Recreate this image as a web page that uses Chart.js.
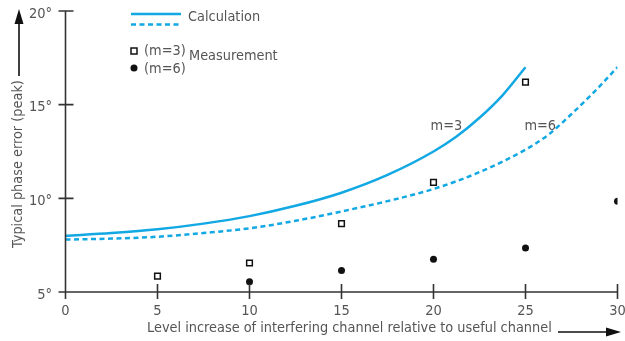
<!DOCTYPE html>
<html>
<head>
<meta charset="utf-8">
<script src="https://cdn.jsdelivr.net/npm/chart.js@4/dist/chart.umd.min.js"></script>
<style>
  html, body { margin: 0; padding: 0; background: #fff; }
  #wrap { width: 625px; height: 341px; position: relative; }
</style>
</head>
<body>
<div id="wrap"><canvas id="c"></canvas></div>
<script>
// Level increase (dB) along the x axis
const calcLevelsM3 = [0, 2.5, 5, 7.5, 10, 12.5, 15, 17.5, 20, 21.25, 22.5, 23.75, 25];
const calcLevelsM6 = [0, 2.5, 5, 7.5, 10, 12.5, 15, 17.5, 20, 22.5, 25, 26.25, 27.5, 28.75, 30];
// Calculated phase error (degrees)
const calcM3 = [8.0, 8.15, 8.35, 8.65, 9.05, 9.6, 10.3, 11.25, 12.5, 13.3, 14.3, 15.5, 17.0];
const calcM6 = [7.8, 7.85, 7.95, 8.15, 8.4, 8.8, 9.3, 9.85, 10.5, 11.4, 12.6, 13.4, 14.5, 15.7, 17.0];
// Measured phase error (degrees)
const measLevelsM3 = [5, 10, 15, 20, 25];
const measM3 = [5.85, 6.55, 8.65, 10.85, 16.2];
const measLevelsM6 = [10, 15, 20, 25, 30];
const measM6 = [5.55, 6.15, 6.75, 7.35, 9.85];
// Axis ticks
const xTicks = [0, 5, 10, 15, 20, 25, 30];
const yTicks = [5, 10, 15, 20];

const BLUE = '#12a8e4';
const TEXT = '#555555';
const AXIS = '#333333';
const FONT = "'DejaVu Sans Condensed', 'Liberation Sans Narrow', sans-serif";
const X_TITLE = 'Level increase of interfering channel relative to useful channel';
const Y_TITLE = 'Typical phase error (peak)';

const pts = (xs, ys) => xs.map((x, i) => ({ x: x, y: ys[i] }));

const decor = {
  id: 'decor',
  afterDraw(chart) {
    const ctx = chart.ctx;
    const xs = chart.scales.x, ys = chart.scales.y;
    const x0 = xs.getPixelForValue(0), x30 = xs.getPixelForValue(30);
    const yb = ys.getPixelForValue(5), yt = ys.getPixelForValue(20);
    ctx.save();

    // axis lines with tick marks crossing them
    ctx.strokeStyle = AXIS;
    ctx.lineWidth = 1.6;
    ctx.beginPath();
    ctx.moveTo(x0, yt); ctx.lineTo(x0, yb + 7);
    ctx.moveTo(x0 - 7, yb); ctx.lineTo(x30, yb);
    xTicks.forEach(v => {
      const p = xs.getPixelForValue(v);
      ctx.moveTo(p, yb - 8); ctx.lineTo(p, yb + 7);
    });
    yTicks.forEach(v => {
      const p = ys.getPixelForValue(v);
      ctx.moveTo(x0 - 7, p); ctx.lineTo(x0 + 8, p);
    });
    ctx.stroke();

    // text size chosen so the x title spans its place under the axis
    ctx.font = '15px ' + FONT;
    const size = (15 * 405 / ctx.measureText(X_TITLE).width).toFixed(2);
    ctx.font = size + 'px ' + FONT;

    // axis titles
    ctx.fillStyle = TEXT;
    ctx.textBaseline = 'middle';
    ctx.textAlign = 'left';
    ctx.fillText(X_TITLE, 147, 328);
    ctx.save();
    ctx.translate(18, 164);
    ctx.rotate(-Math.PI / 2);
    ctx.textAlign = 'center';
    ctx.fillText(Y_TITLE, 0, 0);
    ctx.restore();

    // arrows
    ctx.strokeStyle = '#111';
    ctx.fillStyle = '#111';
    ctx.lineWidth = 1.6;
    ctx.beginPath();
    ctx.moveTo(558, 332); ctx.lineTo(610, 332);
    ctx.moveTo(19, 76); ctx.lineTo(19, 20);
    ctx.stroke();
    ctx.beginPath();
    ctx.moveTo(621, 332); ctx.lineTo(606, 327.5); ctx.lineTo(606, 336.5); ctx.closePath();
    ctx.fill();
    ctx.beginPath();
    ctx.moveTo(19, 9); ctx.lineTo(14.5, 24); ctx.lineTo(23.5, 24); ctx.closePath();
    ctx.fill();

    // legend
    ctx.strokeStyle = BLUE;
    ctx.lineWidth = 2.4;
    ctx.beginPath(); ctx.moveTo(131, 14); ctx.lineTo(181, 14); ctx.stroke();
    ctx.setLineDash([5, 3.5]);
    ctx.beginPath(); ctx.moveTo(131, 24.5); ctx.lineTo(181, 24.5); ctx.stroke();
    ctx.setLineDash([]);
    ctx.strokeStyle = '#111';
    ctx.lineWidth = 1.5;
    ctx.fillStyle = '#fff';
    ctx.fillRect(131, 48, 6, 6);
    ctx.strokeRect(131, 48, 6, 6);
    ctx.fillStyle = '#111';
    ctx.beginPath(); ctx.arc(134, 68, 3.5, 0, Math.PI * 2); ctx.fill();

    ctx.fillStyle = TEXT;
    ctx.textAlign = 'left';
    ctx.fillText('Calculation', 188, 17);
    ctx.fillText('(m=3)', 144, 51);
    ctx.fillText('(m=6)', 144, 69);
    ctx.fillText('Measurement', 189, 56);

    // curve labels
    ctx.textAlign = 'center';
    ctx.fillText('m=3', xs.getPixelForValue(20.7), ys.getPixelForValue(13.85));
    ctx.fillText('m=6', xs.getPixelForValue(25.8), ys.getPixelForValue(13.85));
    ctx.restore();
  }
};

new Chart(document.getElementById('c'), {
  type: 'scatter',
  data: {
    datasets: [
      {
        label: 'Calculation m=3',
        type: 'line',
        data: pts(calcLevelsM3, calcM3),
        borderColor: BLUE,
        borderWidth: 2.5,
        pointRadius: 0,
        cubicInterpolationMode: 'monotone',
        fill: false
      },
      {
        label: 'Calculation m=6',
        type: 'line',
        data: pts(calcLevelsM6, calcM6),
        borderColor: BLUE,
        borderWidth: 2.5,
        borderDash: [5, 3.5],
        pointRadius: 0,
        cubicInterpolationMode: 'monotone',
        fill: false
      },
      {
        label: 'Measurement m=3',
        data: pts(measLevelsM3, measM3),
        pointStyle: 'rect',
        pointRadius: 4,
        pointBorderWidth: 1.5,
        borderColor: '#111',
        backgroundColor: '#fff'
      },
      {
        label: 'Measurement m=6',
        data: pts(measLevelsM6, measM6),
        pointStyle: 'circle',
        pointRadius: 3.5,
        pointBorderWidth: 0,
        borderColor: '#111',
        backgroundColor: '#111'
      }
    ]
  },
  options: {
    responsive: true,
    maintainAspectRatio: false,
    animation: false,
    events: [],
    layout: { padding: { left: 0, right: 7.5, top: 11, bottom: 0 } },
    plugins: { legend: { display: false }, tooltip: { enabled: false } },
    scales: {
      x: {
        type: 'linear',
        min: 0, max: 30,
        afterFit(s) { s.height = 49; s.paddingLeft = 0; s.paddingRight = 0; },
        afterBuildTicks(s) { s.ticks = xTicks.map(v => ({ value: v })); },
        grid: { display: false, drawTicks: false },
        border: { display: false },
        ticks: {
          color: TEXT,
          font: { family: FONT, size: 14.5 },
          padding: 11,
          maxRotation: 0
        }
      },
      y: {
        type: 'linear',
        min: 5, max: 20,
        afterFit(s) { s.width = 65.5; s.paddingTop = 0; s.paddingBottom = 0; },
        afterBuildTicks(s) { s.ticks = yTicks.map(v => ({ value: v })); },
        grid: { display: false, drawTicks: false },
        border: { display: false },
        ticks: {
          color: TEXT,
          font: { family: FONT, size: 14.5 },
          padding: 13.5,
          labelOffset: 3,
          callback: v => v + '°'
        }
      }
    }
  },
  plugins: [decor]
});
</script>
</body>
</html>
